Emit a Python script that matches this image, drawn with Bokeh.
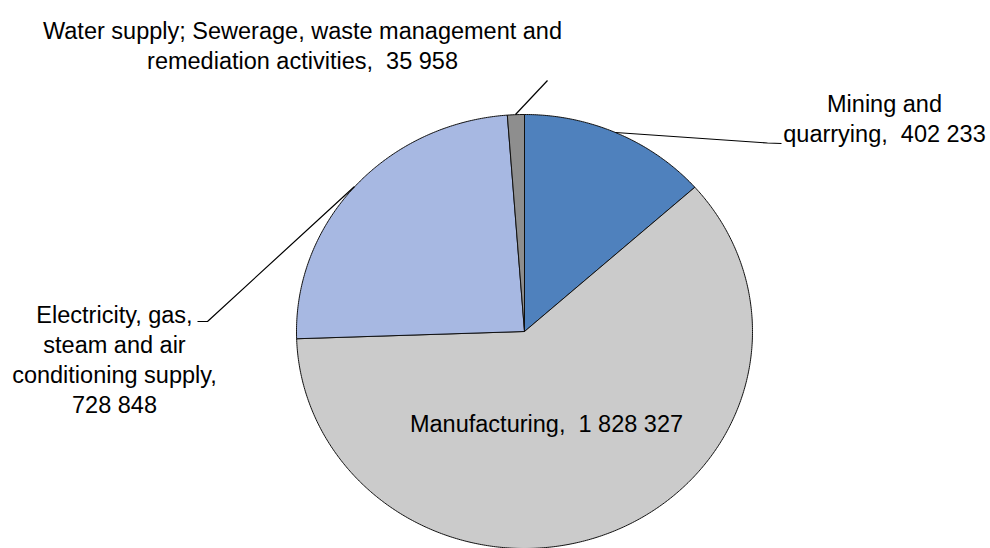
import numpy as np
from bokeh.plotting import figure
from bokeh.models import Range1d
from bokeh.embed import file_html
from bokeh.resources import INLINE
from bokeh.core.properties import value

# ---- data ----
categories = [
    "Mining and quarrying",
    "Manufacturing",
    "Electricity, gas, steam and air conditioning supply",
    "Water supply; Sewerage, waste management and remediation activities",
]
values = [402233, 1828327, 728848, 35958]
colors = ["#4F81BD", "#CBCBCB", "#A7B8E2", "#8E8E8E"]


def fmt(v):
    return f"{v:,}".replace(",", " ")


SEP = ",\u00a0 "
label_lines = [
    ["Mining and", "quarrying" + SEP + fmt(values[0])],
    ["Manufacturing" + SEP + fmt(values[1])],
    ["Electricity, gas,", "steam and air", "conditioning supply,", fmt(values[2])],
    ["Water supply; Sewerage, waste management and",
     "remediation activities" + SEP + fmt(values[3])],
]

# ---- layout (screen pixel coordinates) ----
CX, CY, RX, RY = 524, 331, 228, 217
label_pos = [(884, 103), (546, 423), (114, 314), (302, 30)]
LINE_H = 30
FONT = "Liberation Sans"
FSIZE = "23.5px"

p = figure(width=990, height=548, x_range=Range1d(0, 990), y_range=Range1d(548, 0),
           x_axis_type=None, y_axis_type=None, output_backend="svg",
           toolbar_location=None, min_border=0)
p.grid.visible = False
p.outline_line_color = None
p.background_fill_color = "white"
p.border_fill_color = "white"

total = float(sum(values))
fr = np.concatenate([[0.0], np.cumsum(values) / total])
xs, ys = [], []
for i in range(len(values)):
    n = max(4, int((fr[i + 1] - fr[i]) * 720))
    t = np.linspace(fr[i], fr[i + 1], n) * 2 * np.pi
    xs.append([CX] + list(CX + RX * np.sin(t)))
    ys.append([CY] + list(CY - RY * np.cos(t)))

p.patches(xs, ys, fill_color=colors, line_color="#111111", line_width=1)

# leader lines
p.line([615, 767, 781], [132, 142.5, 143], line_color="black", line_width=1.2)
p.line([197, 207, 354], [321, 321, 186], line_color="black", line_width=1.2)
p.line([515, 547], [114, 80], line_color="black", line_width=1.2)

tx, ty, tt = [], [], []
for (x0, y0), lines in zip(label_pos, label_lines):
    for k, s in enumerate(lines):
        tx.append(x0)
        ty.append(y0 + k * LINE_H)
        tt.append(s)
p.text(tx, ty, text=tt, text_align="center", text_baseline="middle",
       text_font=value(FONT), text_font_size=FSIZE, text_color="black")

open("out.html", "w").write(file_html(p, INLINE))
